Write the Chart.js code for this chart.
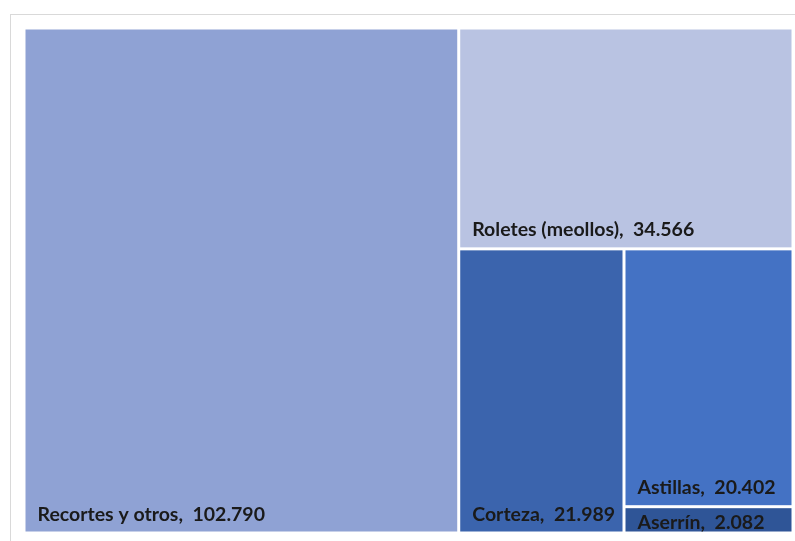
<!DOCTYPE html>
<html>
<head>
<meta charset="utf-8">
<script src="https://cdn.jsdelivr.net/npm/chart.js@4"></script>
<style>
  body { margin: 0; background: #fff; }
  canvas { display: block; }
</style>
</head>
<body>
<canvas id="treemap" width="795" height="541"></canvas>
<script>
const categories = ['Recortes y otros', 'Roletes (meollos)', 'Corteza', 'Astillas', 'Aserrín'];
const values = [102790, 34566, 21989, 20402, 2082];
const colors = ['#8FA2D4', '#B9C3E2', '#3B64AD', '#4472C4', '#2F5597'];

const fmt = v => v.toLocaleString('de-DE');

// slice each item off the remaining box, cutting across the longer side
function layout(areaW, areaH) {
  const cells = [];
  let box = { x0: 0, y0: 0, x1: 1, y1: 1 };
  let rest = values.reduce((a, b) => a + b, 0);
  values.forEach((v, i) => {
    const f = i === values.length - 1 ? 1 : v / rest;
    const w = (box.x1 - box.x0) * areaW;
    const h = (box.y1 - box.y0) * areaH;
    if (w >= h) {
      const xm = box.x0 + (box.x1 - box.x0) * f;
      cells.push({ i, x0: box.x0, y0: box.y0, x1: xm, y1: box.y1 });
      box = { x0: xm, y0: box.y0, x1: box.x1, y1: box.y1 };
    } else {
      const ym = box.y0 + (box.y1 - box.y0) * f;
      cells.push({ i, x0: box.x0, y0: box.y0, x1: box.x1, y1: ym });
      box = { x0: box.x0, y0: ym, x1: box.x1, y1: box.y1 };
    }
    rest -= v;
  });
  return cells;
}

const frame = {
  id: 'frame',
  beforeDraw(chart) {
    const ctx = chart.ctx;
    ctx.save();
    ctx.strokeStyle = '#d9d9d9';
    ctx.lineWidth = 1;
    ctx.strokeRect(10.5, 14.5, 800, 600);
    ctx.restore();
  }
};

const treemap = {
  id: 'treemap',
  afterDatasetsDraw(chart) {
    const { ctx, chartArea, scales: { x, y } } = chart;
    const cells = layout(chartArea.width, chartArea.height);
    const gap = 1.5;
    ctx.save();
    cells.forEach(c => {
      const left = x.getPixelForValue(c.x0) + gap;
      const right = x.getPixelForValue(c.x1) - gap;
      const top = y.getPixelForValue(c.y0) + gap;
      const bottom = y.getPixelForValue(c.y1) - gap;
      ctx.fillStyle = colors[c.i];
      ctx.fillRect(left, top, right - left, bottom - top);

      ctx.fillStyle = '#1a1a1a';
      ctx.font = 'bold 19.5px Lato';
      ctx.textBaseline = 'alphabetic';
      const base = Math.max(bottom - 11, top + 21);
      ctx.fillText(categories[c.i] + ',  ' + fmt(values[c.i]), left + 12, base);
    });
    ctx.restore();
  }
};

new Chart(document.getElementById('treemap'), {
  type: 'scatter',
  data: { datasets: [{ data: [] }] },
  options: {
    responsive: false,
    animation: false,
    layout: { padding: { left: 24, top: 28, right: 2, bottom: 8 } },
    plugins: { legend: { display: false }, tooltip: { enabled: false } },
    scales: {
      x: { type: 'linear', min: 0, max: 1, display: false },
      y: { type: 'linear', min: 0, max: 1, reverse: true, display: false }
    }
  },
  plugins: [frame, treemap]
});
</script>
</body>
</html>
